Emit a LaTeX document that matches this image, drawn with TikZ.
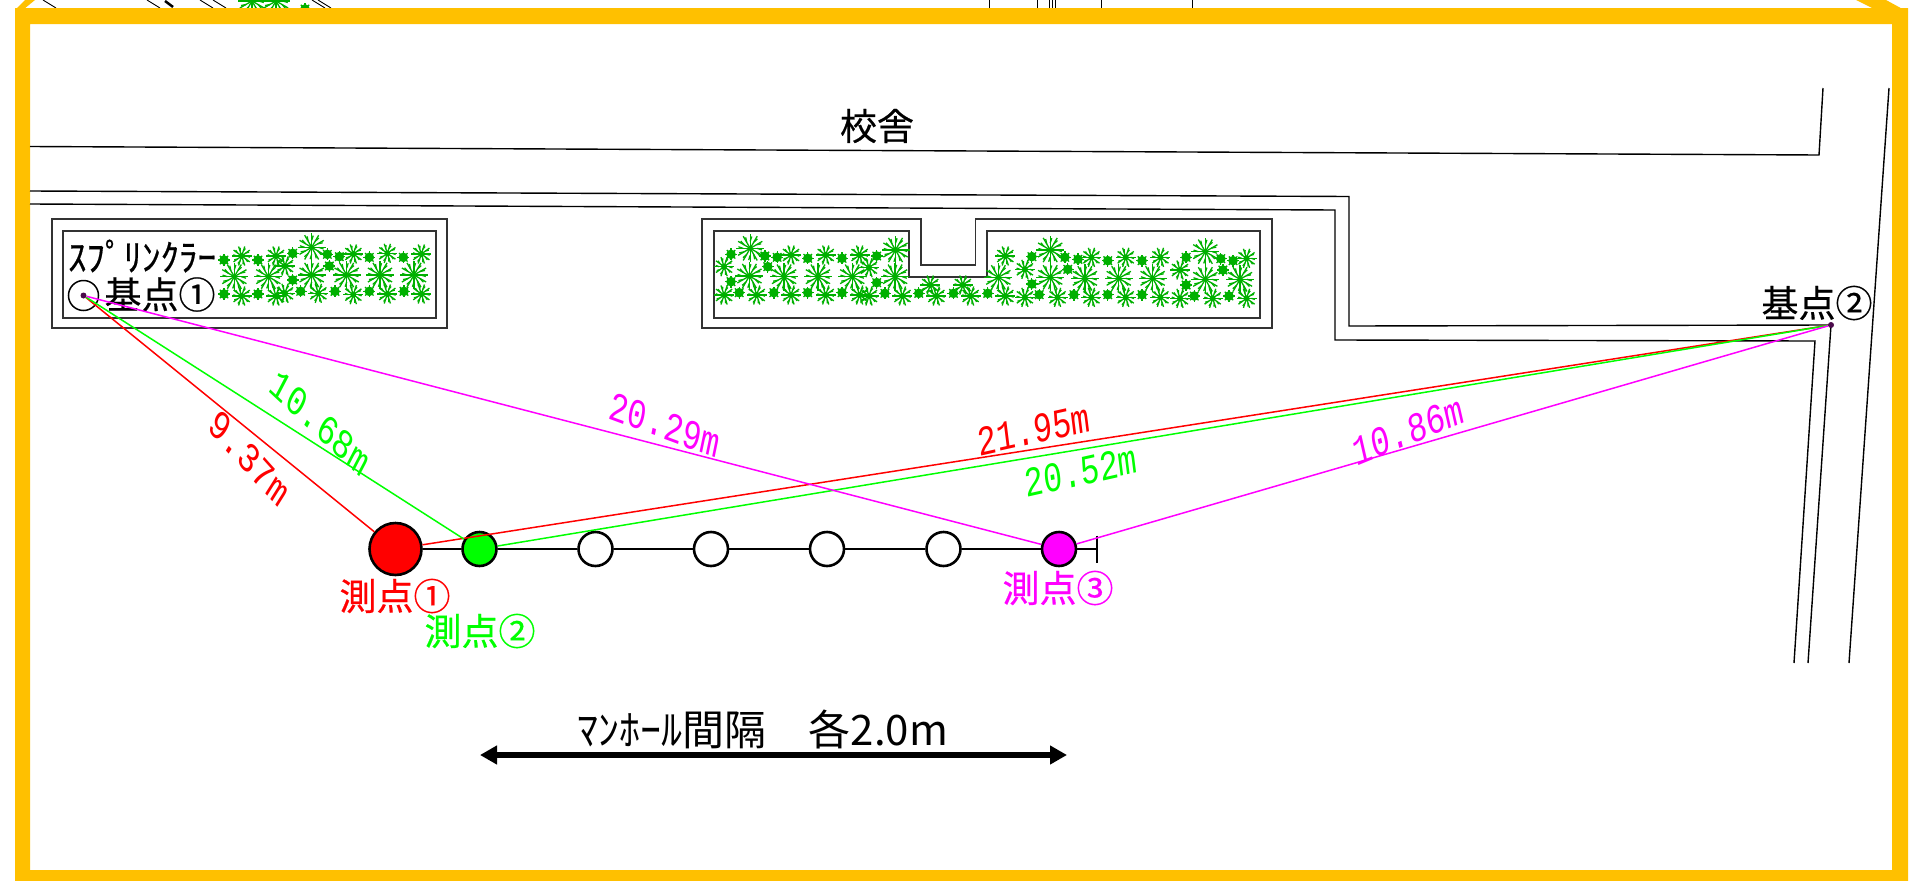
\documentclass[tikz,border=0pt]{standalone}
\usepackage{fontspec}
\setmainfont{Noto Sans CJK JP}
\newfontfamily\labelfont{Noto Sans CJK JP}[FakeBold=0.5]
\newfontfamily\distfont{Liberation Mono}
\usetikzlibrary{arrows.meta}
\usetikzlibrary{positioning}
\definecolor{framecol}{HTML}{FFC000}
\definecolor{plantcol}{HTML}{00B000}
\definecolor{pointcol}{HTML}{4B0A4B}
\definecolor{pinkcol}{HTML}{FF00FF}
\tikzset{
  wall/.style={line width=1.4pt},
  bed/.style={line width=1.8pt, draw=black!80},
  plantline/.style={draw=plantcol, line width=1.3pt},
  hole/.style={circle, draw, line width=2.6pt, inner sep=0pt, minimum size=34pt, fill=white},
  basept/.style={circle, fill=pointcol, inner sep=0pt, minimum size=6pt},
  pointlabel/.style={inner sep=0pt, font=\fontsize{37}{37}\selectfont\labelfont},
  distlabel/.style={inner sep=0pt, xscale=0.75, font=\fontsize{42}{42}\selectfont\distfont},
  redline/.style={draw=red, line width=1.5pt},
  greenline/.style={draw=green, line width=1.5pt},
  pinkline/.style={draw=pinkcol, line width=1.5pt},
}
\newcommand{\plantbig}[1]{%
  \foreach \a in {0,30,...,330}{
    \draw[plantline] (#1) -- ++(\a:14);
    \draw[plantline] (#1) ++(\a:7) -- ++(\a+18:5);
  }
}
\newcommand{\plantmid}[1]{%
  \fill[plantcol] (#1) circle (3);
  \foreach \a in {0,36,...,324}{
    \draw[plantline] (#1) -- ++(\a:10);
    \draw[plantline] (#1) ++(\a:5) -- ++(\a+20:3.5);
  }
}
\newcommand{\plantsmall}[1]{%
  \fill[plantcol] (#1) circle (4.8);
  \foreach \a in {0,45,...,315}{\draw[plantline] (#1) -- ++(\a:6);}
}
\begin{document}
\begin{tikzpicture}[x=1pt, y=-1pt]
  \useasboundingbox (0,0) rectangle (1920,881);

  % pieces of the plan above the frame
  \begin{scope}
    \clip (0,0) rectangle (1920,10);
    \foreach \x in {43,147,200,213,312,318}{\draw[line width=0.9pt] (\x,0) -- ++(13,8);}
    \draw[line width=2.5pt] (165,1) -- (173,7);
    \foreach \x in {989,1037.6,1049,1052,1055.5,1101,1192}{\draw[line width=0.9pt] (\x,0) -- (\x,8);}
    \plantbig{252,1}
    \plantbig{276,1}
    \plantsmall{305,9}
  \end{scope}

  % frame
  \fill[framecol] (15,10) -- (25,0) -- (35,0) -- (24,9) -- cycle;
  \fill[framecol] (1856,0) -- (1886,0) -- (1908,12) -- (1880,12) -- cycle;
  \fill[framecol, even odd rule] (15,8) rectangle (1908,881) (30,24) rectangle (1892,870);

  % school building and walkway
  \draw[wall] (30,146.5) -- (1819,155) -- (1823,88);
  \draw[wall] (1889,88) -- (1849,663);
  \draw[wall] (30,191) -- (1349,196.5) -- (1349,326) -- (1831,325) -- (1808,663);
  \draw[wall] (30,204) -- (1335,210) -- (1335,340) -- (1815,341) -- (1794,663);
  \node[pointlabel] (school) at (877,126) {校舎};

  % flower beds
  \draw[bed] (52,219) rectangle (447,328);
  \draw[bed] (63,231) rectangle (436,318);
  \draw[bed] (701.6,328) -- (701.6,219) -- (920.8,219) -- (920.8,265) -- (975.5,265) -- (975.5,219) -- (1272,219) -- (1272,328) -- cycle;
  \draw[bed] (713.9,318) -- (713.9,231) -- (909,231) -- (909,277) -- (987.3,277) -- (987.3,231) -- (1260,231) -- (1260,318) -- cycle;

  % plants, left bed
  \foreach \x/\y in {935/742,703/830,805/830,935/825,1040/825,1140/825,1242/825}{\plantbig{\x/3,\y/3}}
  \foreach \x/\y in {725/768,828/768,855/798,1060/762,1162/760,1264/762,725/888,828/888,855/880,955/880,1060/884,1162/882,1264/882}{\plantmid{\x/3,\y/3}}
  \foreach \x/\y in {672/780,774/780,878/760,982/763,1018/770,1108/772,1210/772,988/798,878/840,672/882,774/882,902/874,1005/874,1108/874,1212/874}{\plantsmall{\x/3,\y/3}}

  % plants, middle bed
  \foreach \x/\y in {172/745,528/750,170/828,255/830,338/830,422/830,527/830,780/832,907/750,907/832,992/835,1075/835,1158/835,1287/755,1287/838,1372/838}{\plantbig{680+\x/2.45,\y/3}}
  \foreach \x/\y in {613/855,693/855}{\plantmid{680+\x/2.45,\y/3}}
  \foreach \x/\y in {108/800,272/765,357/765,440/765,463/803,108/885,188/885,272/885,357/885,440/885,463/888,545/888,628/888,712/888,797/768,797/888,845/808,845/892,1008/772,1092/772,1177/772,1225/810,925/892,1008/892,1092/892,1177/892,1225/895,1305/895,1388/775,1388/895}{\plantmid{680+\x/2.45,\y/3}}
  \foreach \x/\y in {125/763,208/768,238/772,313/775,397/775,482/768,215/800,125/845,145/878,230/878,313/878,397/878,482/848,502/880,585/880,670/880,754/880,862/770,943/772,975/778,1048/782,1132/782,1240/772,1325/776,1355/782,950/808,862/852,1330/810,1240/855,880/884,965/884,1048/884,1132/884,1260/888,1345/888}{\plantsmall{680+\x/2.45,\y/3}}

  % manholes
  \node[hole, fill=red, minimum size=52pt] (hole1) at (395.5,549) {};
  \node[hole, fill=green] (hole2) at (479.5,549) {};
  \node[hole] (hole3) at (595.5,549) {};
  \node[hole] (hole4) at (711,549) {};
  \node[hole] (hole5) at (827,549) {};
  \node[hole] (hole6) at (943.5,549) {};
  \node[hole, fill=pinkcol] (hole7) at (1059,549) {};
  \coordinate (holeend) at (1097,549);
  \draw[line width=2pt] (hole1) -- (hole2);
  \foreach \i/\j in {2/3,3/4,4/5,5/6,6/7}{\draw[line width=2pt] (hole\i) -- (hole\j);}
  \draw[line width=2pt] (hole7) -- (holeend);
  \draw[line width=2pt] ([yshift=13.5pt]holeend) -- ([yshift=-13.5pt]holeend);

  % base points
  \node[basept] (base1) at (83.5,295.5) {};
  \node[circle, draw, line width=1.5pt, inner sep=0pt, minimum size=30pt] (sprinkler) at (base1) {};
  \node[basept] (base2) at (1831,325) {};
  \node[pointlabel] (sprtext) at (142,256) {ｽﾌﾟﾘﾝｸﾗｰ};
  \node[pointlabel] (base1text) at (160,294.5) {基点①};
  \node[pointlabel] (base2text) at (1817,303) {基点②};

  % measured distances
  \draw[redline] (base1) -- (hole1);
  \draw[redline] (hole1) -- (base2);
  \draw[greenline] (base1) -- (hole2);
  \draw[greenline] (hole2) -- (base2);
  \draw[pinkline] (base1) -- (hole7);
  \draw[pinkline] (hole7) -- (base2);

  \node[distlabel, rotate=-40, text=red] (d1) at (249,458) {9.37m};
  \node[distlabel, rotate=-35, text=green] (d2) at (320,423) {10.68m};
  \node[distlabel, rotate=-15.5, text=pinkcol] (d3) at (665,425) {20.29m};
  \node[distlabel, rotate=9.5, text=red] (d4) at (1034,430) {21.95m};
  \node[distlabel, rotate=9.5, text=green] (d5) at (1081,471.5) {20.52m};
  \node[distlabel, rotate=17, text=pinkcol] (d6) at (1408,431) {10.86m};

  \node[pointlabel, text=red] (p1text) at (395,596) {測点①};
  \node[pointlabel, text=green] (p2text) at (480,631) {測点②};
  \node[pointlabel, text=pinkcol] (p3text) at (1058,588) {測点③};

  % spacing arrow
  \coordinate (spanl) at (480,755);
  \coordinate (spanr) at (1067,755);
  \draw[line width=6pt, {Triangle[length=17pt,width=18pt]}-{Triangle[length=17pt,width=18pt]}] (spanl) -- (spanr);
  \node[inner sep=0pt, font=\fontsize{42}{42}\selectfont] (spantext) at (763,729) {ﾏﾝﾎｰﾙ間隔　各2.0m};
\end{tikzpicture}
\end{document}
